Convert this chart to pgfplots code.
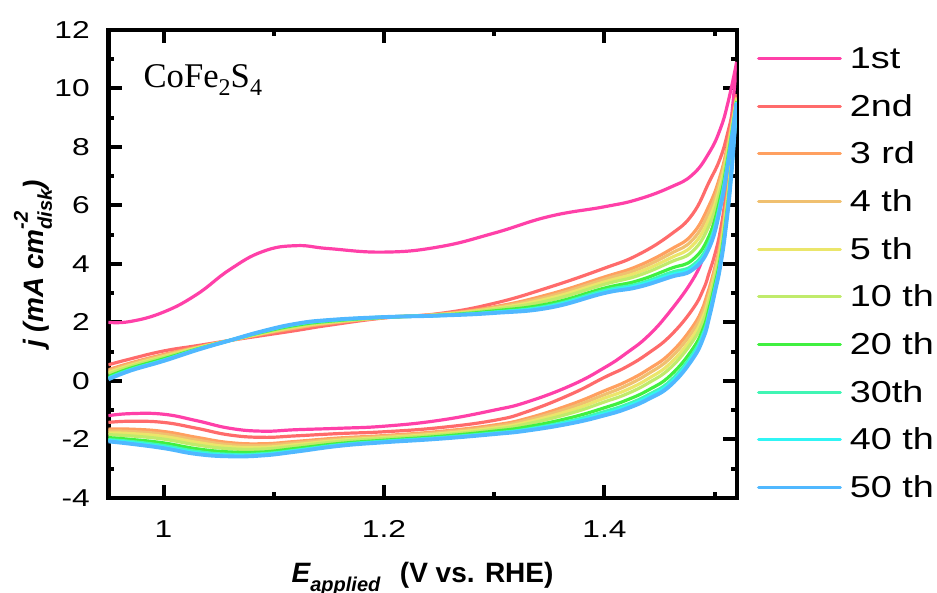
\documentclass[border=0pt]{standalone}
\usepackage{fontspec}
\setmainfont{Liberation Sans}
\newfontfamily\seriffont{Liberation Serif}
\newfontfamily\tickfont[FakeStretch=1.3]{Liberation Sans}
\newfontfamily\legfont[FakeStretch=1.25]{Liberation Sans}
\usepackage{pgfplots}
\pgfplotsset{compat=1.18}

\definecolor{c1}{HTML}{FF40A8}
\definecolor{c2}{HTML}{FF6B6B}
\definecolor{c3}{HTML}{FFA060}
\definecolor{c4}{HTML}{F0C070}
\definecolor{c5}{HTML}{EBE66B}
\definecolor{c10}{HTML}{C0EB6B}
\definecolor{c20}{HTML}{40F040}
\definecolor{c30}{HTML}{40F5B4}
\definecolor{c40}{HTML}{30F5F5}
\definecolor{c50}{HTML}{50B8FF}

\begin{document}
\begin{tikzpicture}
\useasboundingbox (-81.3pt,-70.65pt) rectangle (621.4pt,373.4pt);
\begin{axis}[
  name=ax,
  at={(0,0)}, anchor=south west,
  scale only axis,
  width=471.2pt, height=351.1pt,
  xmin=0.95, xmax=1.52,
  ymin=-4, ymax=12,
  xtick={1,1.2,1.4},
  minor xtick={1.1,1.3,1.5},
  ytick={-4,-2,0,2,4,6,8,10,12},
  minor ytick={-3,-1,1,3,5,7,9,11},
  tick align=inside,
  axis line style={line width=3.3pt},
  every tick/.style={black, line width=3pt},
  major tick length=10pt,
  minor tick length=4.5pt,
  /pgf/number format/assume math mode=true,
  ticklabel style={font=\tickfont\fontsize{18.3}{21}\selectfont},
  xticklabel style={anchor=north, inner sep=0pt, yshift=-16.6pt},
  yticklabel style={anchor=east, inner sep=0pt, xshift=-13.8pt},
  xlabel={{\bfseries\itshape E\raisebox{-0.32em}{\fontsize{15}{15}\selectfont applied}}\hspace{0.7em}\bfseries (V vs. RHE)},
  ylabel={\bfseries\itshape j (mA cm\rlap{\raisebox{0.55em}{\fontsize{15}{15}\selectfont -2}}\raisebox{-0.3em}{\fontsize{15}{15}\selectfont disk})},
  label style={font=\fontsize{21}{25}\selectfont},
  xlabel style={at={(axis description cs:0.5,-0.1815)}, anchor=base},
  ylabel style={at={(axis description cs:-0.1035,0.5)}, anchor=base, rotate=0},
  legend cell align=left,
  legend style={draw=none, fill=none, at={(1,1)}, anchor=north west,
    xshift=15.2pt, yshift=-13.35pt, inner sep=0pt, outer sep=0pt,
    row sep=17.8pt, font=\legfont\fontsize{22.7}{26}\selectfont,
    nodes={inner sep=0pt, outer sep=0pt},
    /tikz/every odd column/.append style={column sep=6pt}},
  legend image code/.code={\draw[#1, line width=2.3pt, line cap=round] (1.2pt,0pt) -- (62.5pt,0pt);},
  every axis plot/.append style={line width=2.4pt, smooth, tension=0.75},
]

% 1st cycle
\addplot[c1] coordinates {(0.95,2.00)(0.97,2.03)(1.00,2.35)(1.03,2.95)(1.06,3.80)(1.09,4.42)(1.12,4.62)(1.15,4.52)(1.20,4.40)(1.25,4.58)(1.30,5.05)(1.35,5.62)(1.40,5.95)(1.43,6.20)(1.46,6.62)(1.48,7.05)(1.495,7.80)(1.505,8.60)(1.512,9.50)(1.52,10.90)};
\addlegendentry{1st}
\addplot[c1, forget plot] coordinates {(1.52,10.90)(1.515,8.90)(1.51,7.40)(1.505,6.30)(1.50,5.50)(1.495,4.85)(1.49,4.25)(1.48,3.45)(1.46,2.40)(1.44,1.55)(1.42,0.95)(1.40,0.45)(1.37,-0.15)(1.33,-0.72)(1.30,-1.00)(1.25,-1.35)(1.20,-1.55)(1.16,-1.62)(1.12,-1.67)(1.09,-1.72)(1.06,-1.62)(1.03,-1.36)(1.00,-1.14)(0.97,-1.12)(0.95,-1.19)};

% 2nd cycle
\addplot[c2] coordinates {(0.95,0.55)(0.97,0.75)(1.00,1.02)(1.03,1.20)(1.06,1.38)(1.09,1.55)(1.12,1.72)(1.15,1.90)(1.20,2.15)(1.25,2.30)(1.30,2.65)(1.35,3.20)(1.40,3.85)(1.43,4.30)(1.46,5.00)(1.48,5.70)(1.495,6.80)(1.505,7.60)(1.512,8.50)(1.52,9.80)};
\addlegendentry{2nd}
\addplot[c2, forget plot] coordinates {(1.52,9.80)(1.515,7.80)(1.51,6.30)(1.505,5.10)(1.50,4.30)(1.495,3.70)(1.49,3.15)(1.48,2.45)(1.46,1.55)(1.44,0.95)(1.42,0.48)(1.40,0.12)(1.37,-0.45)(1.33,-1.05)(1.30,-1.35)(1.25,-1.60)(1.20,-1.74)(1.16,-1.80)(1.12,-1.88)(1.09,-1.93)(1.06,-1.85)(1.03,-1.62)(1.00,-1.42)(0.97,-1.38)(0.95,-1.42)};

% 3rd cycle
\addplot[c3] coordinates {(0.95,0.38)(0.97,0.61)(1.00,0.90)(1.03,1.15)(1.06,1.38)(1.09,1.60)(1.12,1.80)(1.15,1.96)(1.20,2.16)(1.25,2.28)(1.30,2.53)(1.35,2.96)(1.40,3.55)(1.43,3.92)(1.46,4.49)(1.48,5.02)(1.495,6.00)(1.505,7.01)(1.512,8.12)(1.52,9.70)};
\addlegendentry{3 rd}
\addplot[c3, forget plot] coordinates {(1.52,9.70)(1.515,7.52)(1.51,5.92)(1.505,4.68)(1.50,3.85)(1.495,3.16)(1.49,2.57)(1.48,1.85)(1.46,0.95)(1.44,0.40)(1.42,-0.02)(1.40,-0.34)(1.37,-0.80)(1.33,-1.28)(1.30,-1.51)(1.25,-1.73)(1.20,-1.87)(1.16,-1.95)(1.12,-2.07)(1.09,-2.15)(1.06,-2.11)(1.03,-1.93)(1.00,-1.73)(0.97,-1.65)(0.95,-1.65)};

% 4th cycle
\addplot[c4] coordinates {(0.95,0.33)(0.97,0.57)(1.00,0.87)(1.03,1.13)(1.06,1.38)(1.09,1.62)(1.12,1.82)(1.15,1.98)(1.20,2.16)(1.25,2.27)(1.30,2.50)(1.35,2.89)(1.40,3.47)(1.43,3.81)(1.46,4.35)(1.48,4.82)(1.495,5.77)(1.505,6.84)(1.512,8.01)(1.52,9.67)};
\addlegendentry{4 th}
\addplot[c4, forget plot] coordinates {(1.52,9.67)(1.515,7.44)(1.51,5.81)(1.505,4.56)(1.50,3.72)(1.495,3.01)(1.49,2.41)(1.48,1.69)(1.46,0.79)(1.44,0.25)(1.42,-0.16)(1.40,-0.47)(1.37,-0.90)(1.33,-1.34)(1.30,-1.56)(1.25,-1.77)(1.20,-1.90)(1.16,-1.99)(1.12,-2.12)(1.09,-2.21)(1.06,-2.18)(1.03,-2.02)(1.00,-1.82)(0.97,-1.73)(0.95,-1.71)};

% 5th cycle
\addplot[c5] coordinates {(0.95,0.28)(0.97,0.53)(1.00,0.83)(1.03,1.12)(1.06,1.38)(1.09,1.63)(1.12,1.85)(1.15,2.00)(1.20,2.17)(1.25,2.26)(1.30,2.47)(1.35,2.82)(1.40,3.38)(1.43,3.70)(1.46,4.20)(1.48,4.63)(1.495,5.54)(1.505,6.67)(1.512,7.90)(1.52,9.64)};
\addlegendentry{5 th}
\addplot[c5, forget plot] coordinates {(1.52,9.64)(1.515,7.36)(1.51,5.70)(1.505,4.44)(1.50,3.59)(1.495,2.86)(1.49,2.24)(1.48,1.51)(1.46,0.61)(1.44,0.08)(1.42,-0.31)(1.40,-0.59)(1.37,-1.00)(1.33,-1.41)(1.30,-1.61)(1.25,-1.81)(1.20,-1.94)(1.16,-2.03)(1.12,-2.18)(1.09,-2.27)(1.06,-2.25)(1.03,-2.10)(1.00,-1.90)(0.97,-1.80)(0.95,-1.78)};

% 10th cycle
\addplot[c10] coordinates {(0.95,0.23)(0.97,0.49)(1.00,0.80)(1.03,1.10)(1.06,1.38)(1.09,1.65)(1.12,1.87)(1.15,2.02)(1.20,2.17)(1.25,2.25)(1.30,2.44)(1.35,2.75)(1.40,3.30)(1.43,3.59)(1.46,4.06)(1.48,4.43)(1.495,5.31)(1.505,6.50)(1.512,7.79)(1.52,9.61)};
\addlegendentry{10 th}
\addplot[c10, forget plot] coordinates {(1.52,9.61)(1.515,7.28)(1.51,5.59)(1.505,4.32)(1.50,3.46)(1.495,2.71)(1.49,2.08)(1.48,1.35)(1.46,0.45)(1.44,-0.07)(1.42,-0.45)(1.40,-0.72)(1.37,-1.10)(1.33,-1.47)(1.30,-1.66)(1.25,-1.85)(1.20,-1.97)(1.16,-2.07)(1.12,-2.23)(1.09,-2.33)(1.06,-2.32)(1.03,-2.19)(1.00,-1.99)(0.97,-1.88)(0.95,-1.84)};

% 20th cycle
\addplot[c20] coordinates {(0.95,0.15)(0.97,0.43)(1.00,0.75)(1.03,1.08)(1.06,1.38)(1.09,1.67)(1.12,1.90)(1.15,2.04)(1.20,2.17)(1.25,2.24)(1.30,2.39)(1.35,2.64)(1.40,3.17)(1.43,3.42)(1.46,3.84)(1.48,4.14)(1.495,4.96)(1.505,6.24)(1.512,7.62)(1.52,9.56)};
\addlegendentry{20 th}
\addplot[c20, forget plot] coordinates {(1.52,9.56)(1.515,7.16)(1.51,5.42)(1.505,4.14)(1.50,3.26)(1.495,2.48)(1.49,1.83)(1.48,1.09)(1.46,0.19)(1.44,-0.31)(1.42,-0.66)(1.40,-0.92)(1.37,-1.25)(1.33,-1.57)(1.30,-1.72)(1.25,-1.90)(1.20,-2.03)(1.16,-2.14)(1.12,-2.31)(1.09,-2.43)(1.06,-2.43)(1.03,-2.32)(1.00,-2.12)(0.97,-2.00)(0.95,-1.94)};

% 30th cycle
\addplot[c30] coordinates {(0.95,0.10)(0.97,0.39)(1.00,0.71)(1.03,1.07)(1.06,1.38)(1.09,1.69)(1.12,1.93)(1.15,2.06)(1.20,2.18)(1.25,2.24)(1.30,2.35)(1.35,2.57)(1.40,3.09)(1.43,3.31)(1.46,3.70)(1.48,3.95)(1.495,4.73)(1.505,6.07)(1.512,7.51)(1.52,9.53)};
\addlegendentry{30th}
\addplot[c30, forget plot] coordinates {(1.52,9.53)(1.515,7.08)(1.51,5.31)(1.505,4.02)(1.50,3.13)(1.495,2.32)(1.49,1.67)(1.48,0.92)(1.46,0.01)(1.44,-0.47)(1.42,-0.81)(1.40,-1.05)(1.37,-1.36)(1.33,-1.65)(1.30,-1.78)(1.25,-1.94)(1.20,-2.06)(1.16,-2.18)(1.12,-2.37)(1.09,-2.49)(1.06,-2.51)(1.03,-2.41)(1.00,-2.21)(0.97,-2.07)(0.95,-2.01)};

% 40th cycle
\addplot[c40] coordinates {(0.95,0.08)(0.97,0.37)(1.00,0.70)(1.03,1.06)(1.06,1.38)(1.09,1.69)(1.12,1.94)(1.15,2.07)(1.20,2.18)(1.25,2.23)(1.30,2.34)(1.35,2.54)(1.40,3.04)(1.43,3.26)(1.46,3.62)(1.48,3.87)(1.495,4.62)(1.505,5.99)(1.512,7.46)(1.52,9.52)};
\addlegendentry{40 th}
\addplot[c40, forget plot] coordinates {(1.52,9.52)(1.515,7.04)(1.51,5.26)(1.505,3.96)(1.50,3.07)(1.495,2.25)(1.49,1.58)(1.48,0.83)(1.46,-0.07)(1.44,-0.54)(1.42,-0.88)(1.40,-1.12)(1.37,-1.40)(1.33,-1.67)(1.30,-1.80)(1.25,-1.96)(1.20,-2.08)(1.16,-2.20)(1.12,-2.39)(1.09,-2.52)(1.06,-2.54)(1.03,-2.46)(1.00,-2.26)(0.97,-2.11)(0.95,-2.04)};

% 50th cycle
\addplot[c50, line width=2.9pt] coordinates {(0.95,0.05)(0.97,0.35)(1.00,0.68)(1.03,1.05)(1.06,1.38)(1.09,1.70)(1.12,1.95)(1.15,2.08)(1.20,2.18)(1.25,2.23)(1.30,2.32)(1.35,2.50)(1.40,3.00)(1.43,3.20)(1.46,3.55)(1.48,3.80)(1.495,4.55)(1.505,5.90)(1.512,7.40)(1.52,9.50)};
\addlegendentry{50 th}
\addplot[c50, line width=2.9pt, forget plot] coordinates {(1.52,9.50)(1.515,7.00)(1.51,5.20)(1.505,3.90)(1.50,3.00)(1.495,2.17)(1.49,1.50)(1.48,0.75)(1.46,-0.15)(1.44,-0.62)(1.42,-0.95)(1.40,-1.18)(1.37,-1.45)(1.33,-1.70)(1.30,-1.82)(1.25,-1.98)(1.20,-2.10)(1.16,-2.22)(1.12,-2.42)(1.09,-2.55)(1.06,-2.58)(1.03,-2.50)(1.00,-2.30)(0.97,-2.15)(0.95,-2.07)};

\node[anchor=base west, inner sep=0pt, font=\seriffont\fontsize{26}{30}\selectfont]
  at (axis description cs:0.0556,0.8758) {CoFe\raisebox{-0.22em}{\fontsize{18}{18}\selectfont 2}S\raisebox{-0.22em}{\fontsize{18}{18}\selectfont 4}};
\end{axis}
\end{tikzpicture}
\end{document}
